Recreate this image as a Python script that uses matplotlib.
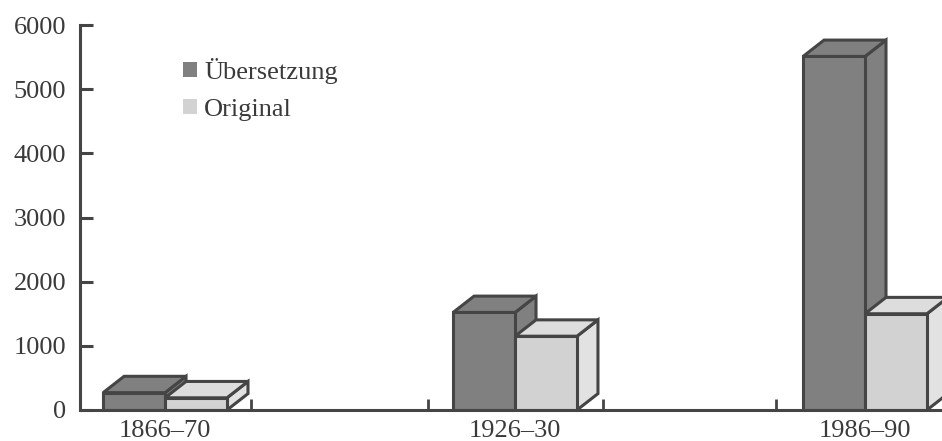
import matplotlib
matplotlib.use('Agg')
import matplotlib.pyplot as plt
from matplotlib.patches import Patch

# Values
periods = ['1866–70', '1926–30', '1986–90']
uebersetzung = [270, 1520, 5510]
original = [190, 1150, 1500]
yticks = [0, 1000, 2000, 3000, 4000, 5000, 6000]

plt.rcParams['font.family'] = ['Liberation Serif']

text_col = '#3a3a3a'
line_col = '#454545'
dark = '#808080'
light = '#d2d2d2'
light_top = '#dddddd'
light_side = '#e2e2e2'

bar_w = 0.354
depth_x = 0.12
depth_y = 255


def draw_box(ax, left, value, front, top, side):
    right = left + bar_w
    # side first, then top and front so the front edges stay on top
    ax.fill([right, right + depth_x, right + depth_x, right],
            [0, depth_y, value + depth_y, value],
            facecolor=side, edgecolor=line_col, lw=2.2, joinstyle='miter')
    ax.fill([left, left + depth_x, right + depth_x, right],
            [value, value + depth_y, value + depth_y, value],
            facecolor=top, edgecolor=line_col, lw=2.2, joinstyle='miter')
    ax.fill([left, right, right, left],
            [0, 0, value, value],
            facecolor=front, edgecolor=line_col, lw=2.2, joinstyle='miter')


fig = plt.figure(figsize=(9.42, 4.41), dpi=100)
ax = fig.add_axes([80 / 942, 31 / 441, 862 / 942, 385 / 441])

positions = [0, 2, 4]
for pos, a, b in zip(positions, uebersetzung, original):
    draw_box(ax, pos - bar_w, a, dark, dark, dark)
    draw_box(ax, pos, b, light, light_top, light_side)

ax.set_xlim(-0.486, 4.44)
ax.set_ylim(0, 6000)

ax.spines['top'].set_visible(False)
ax.spines['right'].set_visible(False)
ax.spines['left'].set_linewidth(2.2)
ax.spines['bottom'].set_linewidth(2.2)
ax.spines['left'].set_color(line_col)
ax.spines['bottom'].set_color(line_col)
ax.spines['left'].set_bounds(0, 6000)

ax.set_yticks(yticks)
ax.tick_params(axis='y', direction='in', length=9, width=2.2, color=line_col,
               labelsize=19, labelcolor=text_col, pad=10)
ax.set_xticks(positions)
ax.set_xticklabels(periods)
ax.set_xticks([0.49, 1.5, 2.5, 3.49], minor=True)
ax.tick_params(axis='x', which='major', length=0, labelsize=19, labelcolor=text_col, pad=7)
ax.tick_params(axis='x', which='minor', direction='in', length=8, width=2, color=line_col)

handles = [Patch(facecolor=dark, edgecolor='none', label='Übersetzung'),
           Patch(facecolor=light, edgecolor='none', label='Original')]
leg = ax.legend(handles=handles, loc='upper left', bbox_to_anchor=(0.1195, 0.915),
                frameon=False, fontsize=19, handlelength=0.53, handleheight=0.53,
                handletextpad=0.27, labelspacing=0.57, borderpad=0, borderaxespad=0)
for t in leg.get_texts():
    t.set_color(text_col)

fig.savefig('out.png', dpi=100)
